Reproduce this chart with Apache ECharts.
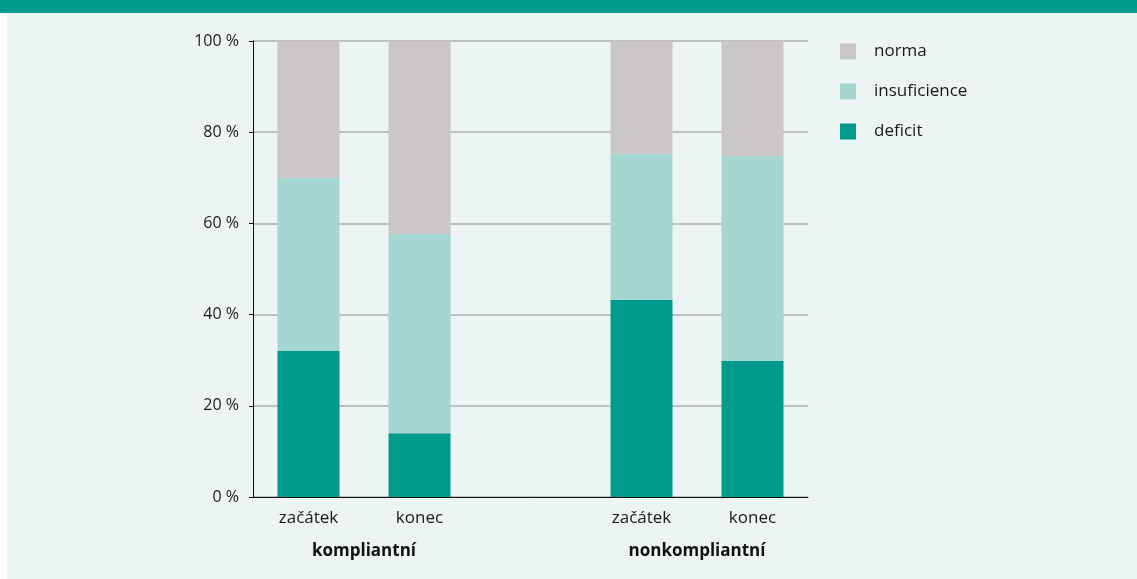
<!DOCTYPE html>
<html>
<head>
<meta charset="utf-8">
<script src="https://cdn.jsdelivr.net/npm/echarts@6/dist/echarts.min.js"></script>
<style>
body{margin:0;background:#fff;}
#top{position:absolute;left:0;top:0;width:1137px;height:13px;background:#009b8d;}
#chart{position:absolute;left:7px;top:13px;width:1130px;height:566px;background:#ecf5f3;}
</style>
</head>
<body>
<div id="top"></div>
<div id="chart"></div>
<script>
// kategorie (prostredni je prazdna mezera mezi skupinami)
var categories = ['začátek', 'konec', '', 'začátek', 'konec'];
var groups = ['', 'kompliantní', '', '', 'nonkompliantní', ''];
var deficit = [32, 14, null, 43.2, 29.8];
var insuficience = [38, 43.7, null, 32.1, 45];
var norma = [30, 42.3, null, 24.7, 25.2];
var yTicks = [0, 20, 40, 60, 80, 100];

var font = '"Open Sans", sans-serif';
var myCharts = echarts.init(document.getElementById('chart'));
var option = {
	animation: false,
	textStyle: {fontFamily: font},
	grid: {
		left: 246,
		top: 28,
		width: 555,
		height: 456,
		containLabel: false
	},
	legend: {
		orient: 'vertical',
		left: 833,
		top: 30,
		padding: 0,
		itemWidth: 16,
		itemHeight: 16,
		itemGap: 23,
		icon: 'rect',
		data: ['norma', 'insuficience', 'deficit'],
		textStyle: {
			color: '#1a1a1a',
			fontFamily: font,
			fontSize: 17,
			padding: [0, 0, 0, 13]
		}
	},
	xAxis: [{
		type: 'category',
		data: categories,
		axisLine: {show: true, lineStyle: {color: '#111', width: 1}},
		axisTick: {show: false},
		axisLabel: {
			margin: 13,
			color: '#1a1a1a',
			fontFamily: font,
			fontSize: 17
		}
	}, {
		type: 'category',
		position: 'bottom',
		boundaryGap: false,
		data: groups,
		offset: 33,
		axisLine: {show: false},
		axisTick: {show: false},
		axisLabel: {
			interval: 0,
			margin: 13,
			color: '#111',
			fontFamily: font,
			fontSize: 17,
			fontWeight: 'bold'
		}
	}],
	yAxis: {
		type: 'value',
		min: yTicks[0],
		max: yTicks[yTicks.length - 1],
		interval: 20,
		axisLine: {show: true, lineStyle: {color: '#111', width: 1}},
		axisTick: {show: true, length: 4, lineStyle: {color: '#111'}},
		splitLine: {show: true, lineStyle: {color: '#b0adac', width: 1.5}},
		axisLabel: {
			margin: 14,
			color: '#1a1a1a',
			fontFamily: font,
			fontSize: 16,
			formatter: '{value} %'
		}
	},
	series: [{
		name: 'deficit',
		type: 'bar',
		stack: 'a',
		barWidth: 62,
		itemStyle: {color: '#009b8d'},
		data: deficit
	}, {
		name: 'insuficience',
		type: 'bar',
		stack: 'a',
		barWidth: 62,
		itemStyle: {color: '#a6d6d2'},
		data: insuficience
	}, {
		name: 'norma',
		type: 'bar',
		stack: 'a',
		barWidth: 62,
		itemStyle: {color: '#cbc7c6'},
		data: norma
	}]
};
myCharts.setOption(option);
</script>
</body>
</html>
